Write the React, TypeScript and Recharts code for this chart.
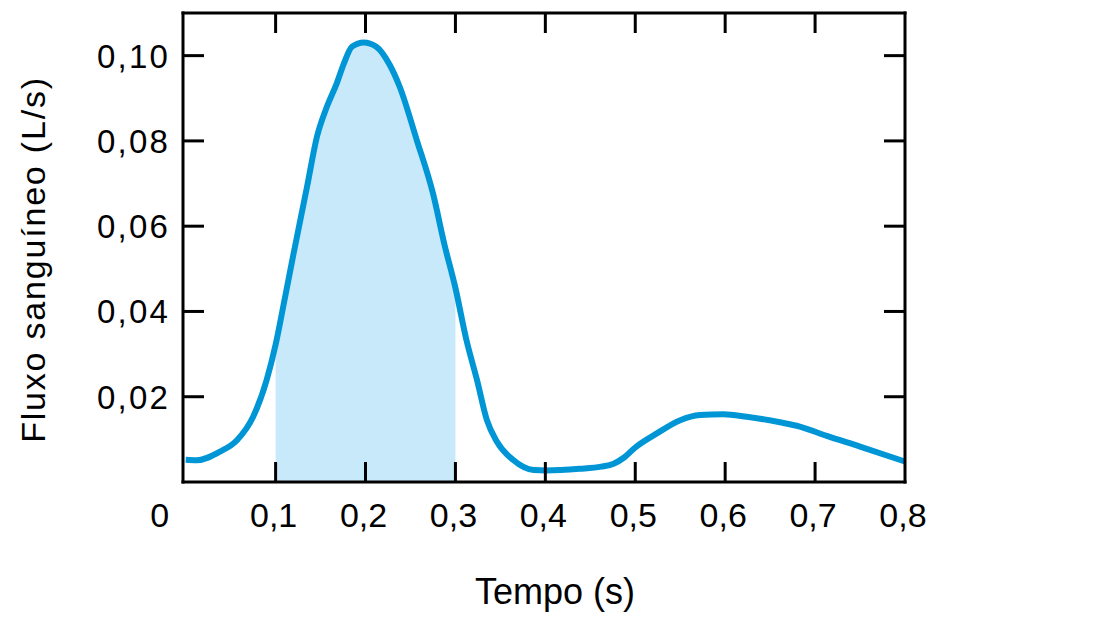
import { ComposedChart, Line, Area, XAxis, YAxis, Label } from 'recharts';

// values
const TIMES = [
  0, 0.012, 0.038, 0.057, 0.075, 0.09, 0.1, 0.11, 0.12, 0.135, 0.146, 0.157, 0.168, 0.176,
  0.185, 0.198, 0.212, 0.227, 0.238, 0.257, 0.275, 0.288, 0.3, 0.312, 0.324, 0.335, 0.346,
  0.364, 0.387, 0.401, 0.438, 0.462, 0.476, 0.488, 0.5, 0.524, 0.55, 0.572, 0.598, 0.624,
  0.661, 0.683, 0.713, 0.75, 0.8,
];
const FLOWS = [
  0.0052, 0.0051, 0.0071, 0.0098, 0.0153, 0.0239, 0.0322, 0.0428, 0.0536, 0.0693, 0.081, 0.088,
  0.0935, 0.0982, 0.1021, 0.1031, 0.1021, 0.0978, 0.0927, 0.0802, 0.0677, 0.0555, 0.0455,
  0.0335, 0.0239, 0.0145, 0.0095, 0.0052, 0.0028, 0.0027, 0.0031, 0.0036, 0.0043, 0.0058,
  0.0081, 0.0114, 0.0145, 0.0157, 0.0159, 0.0153, 0.014, 0.013, 0.0108, 0.0083, 0.0048,
];
const SHADE_FROM = 0.1;
const SHADE_TO = 0.3;

const X_TICKS = [0, 0.1, 0.2, 0.3, 0.4, 0.5, 0.6, 0.7, 0.8];
const Y_TICKS = [0.02, 0.04, 0.06, 0.08, 0.1];
const X_DOMAIN: [number, number] = [-0.003, 0.8];
const Y_DOMAIN: [number, number] = [0, 0.11];

const data = TIMES.map((t, i) => ({
  t,
  flow: FLOWS[i],
  shade: t >= SHADE_FROM && t <= SHADE_TO ? FLOWS[i] : null,
}));

const FONT = '"Liberation Sans", Arial, sans-serif';
const LINE_BLUE = '#0096d6';
const FILL_BLUE = '#c7e9fa';
const FRAME = { stroke: '#000', strokeWidth: 3, strokeLinecap: 'square' as const };

const isInner = (v: number) => v > 0.001 && v < 0.799;

const BottomTick = ({ x, y, payload }: any) => {
  const v = payload.value as number;
  const label = v === 0 ? '0' : v.toFixed(1).replace('.', ',');
  return (
    <g>
      {isInner(v) && <line x1={x} y1={y} x2={x} y2={y - 20} stroke="#000" strokeWidth={3} />}
      <text x={v === 0 ? x - 26 : x - 2} y={y + 45} textAnchor="middle" fontSize={34} fontFamily={FONT} fill="#000">
        {label}
      </text>
    </g>
  );
};

const TopTick = ({ x, y, payload }: any) =>
  isInner(payload.value) ? <line x1={x} y1={y} x2={x} y2={y + 20} stroke="#000" strokeWidth={3} /> : <g />;

const LeftTick = ({ x, y, payload }: any) => (
  <g>
    <line x1={x} y1={y} x2={x + 21} y2={y} stroke="#000" strokeWidth={3} />
    <text x={x - 13} y={y + 12} textAnchor="end" fontSize={33} letterSpacing={2.2} fontFamily={FONT} fill="#000">
      {(payload.value as number).toFixed(2).replace('.', ',')}
    </text>
  </g>
);

const RightTick = ({ x, y }: any) => <line x1={x} y1={y} x2={x - 21} y2={y} stroke="#000" strokeWidth={3} />;

const YTitle = ({ viewBox }: any) => {
  const cx = 33;
  const cy = viewBox.y + viewBox.height / 2 + 12;
  return (
    <text
      x={cx}
      y={cy}
      transform={`rotate(-90 ${cx} ${cy})`}
      textAnchor="middle"
      dominantBaseline="central"
      fontSize={34}
      letterSpacing={1.8}
      fontFamily={FONT}
      fill="#000"
    >
      Fluxo sanguíneo (L/s)
    </text>
  );
};

const XTitle = ({ viewBox }: any) => (
  <text
    x={viewBox.x + viewBox.width / 2 + 11}
    y={viewBox.y + 122}
    textAnchor="middle"
    fontSize={36}
    fontFamily={FONT}
    fill="#000"
  >
    Tempo (s)
  </text>
);

export default function App() {
  return (
    <div style={{ width: 1110, height: 625, background: '#fff' }}>
      <style>{'body{margin:0}'}</style>
      <ComposedChart width={1110} height={625} data={data} margin={{ top: 12, right: 200, bottom: 0, left: 0 }}>
        <XAxis
          dataKey="t"
          type="number"
          domain={X_DOMAIN}
          ticks={X_TICKS}
          interval={0}
          height={143}
          axisLine={FRAME}
          tickLine={false}
          tickSize={0}
          tickMargin={0}
          tick={<BottomTick />}
        >
          <Label content={<XTitle />} />
        </XAxis>
        <XAxis
          xAxisId="top"
          orientation="top"
          dataKey="t"
          type="number"
          domain={X_DOMAIN}
          ticks={X_TICKS}
          interval={0}
          height={1}
          axisLine={FRAME}
          tickLine={false}
          tickSize={0}
          tickMargin={0}
          tick={<TopTick />}
        />
        <YAxis
          type="number"
          domain={Y_DOMAIN}
          ticks={Y_TICKS}
          interval={0}
          width={183}
          axisLine={FRAME}
          tickLine={false}
          tickSize={0}
          tickMargin={0}
          tick={<LeftTick />}
        >
          <Label content={<YTitle />} />
        </YAxis>
        <YAxis
          yAxisId="right"
          orientation="right"
          type="number"
          domain={Y_DOMAIN}
          ticks={Y_TICKS}
          interval={0}
          width={5}
          axisLine={FRAME}
          tickLine={false}
          tickSize={0}
          tickMargin={0}
          tick={<RightTick />}
        />
        <Area
          dataKey="shade"
          type="monotone"
          stroke="none"
          fill={FILL_BLUE}
          fillOpacity={1}
          isAnimationActive={false}
          activeDot={false}
        />
        <Line
          dataKey="flow"
          type="monotone"
          stroke={LINE_BLUE}
          strokeWidth={6}
          dot={false}
          activeDot={false}
          isAnimationActive={false}
        />
        <Line
          xAxisId="top"
          yAxisId="right"
          dataKey="flow"
          stroke="none"
          dot={false}
          activeDot={false}
          isAnimationActive={false}
        />
      </ComposedChart>
    </div>
  );
}
